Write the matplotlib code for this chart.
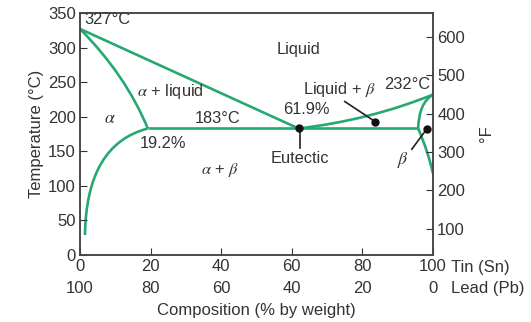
import matplotlib
matplotlib.use("Agg")
import matplotlib.pyplot as plt
from matplotlib.path import Path
from matplotlib.patches import PathPatch
from matplotlib.transforms import blended_transform_factory

plt.rcParams['font.family'] = ['Liberation Sans', 'DejaVu Sans']
plt.rcParams['mathtext.fontset'] = 'stix'

GREEN = '#26a971'

# ---------------- Phase boundaries (composition % Sn, temperature °C) ----------------
# curved boundaries: start point, bend (control) point, end point
liquidus_left_x = [0, 61.9]
liquidus_left_t = [327, 183]

solidus_left_x = [0, 13, 19.2]
solidus_left_t = [327, 260, 183]

solvus_left_x = [19.2, 1.8, 1.4]
solvus_left_t = [183, 160, 29]

liquidus_right_x = [61.9, 82, 100]
liquidus_right_t = [183, 195, 232]

solidus_right_x = [95.8, 96, 100]
solidus_right_t = [183, 220, 232]

solvus_right_x = [95.8, 98.6, 100]
solvus_right_t = [183, 150, 118]

eutectic_x = [19.2, 95.8]
eutectic_t = [183, 183]

xticks = [0, 20, 40, 60, 80, 100]
lead_labels = [100, 80, 60, 40, 20, 0]
yticks = [0, 50, 100, 150, 200, 250, 300, 350]
fticks = [100, 200, 300, 400, 500, 600]

fig = plt.figure(figsize=(5.31, 3.22), dpi=100)
ax = fig.add_axes([0.1507, 0.208, 0.6647, 0.7516])

# straight boundaries
for xs, ts in [(liquidus_left_x, liquidus_left_t), (eutectic_x, eutectic_t)]:
    ax.plot(xs, ts, color=GREEN, lw=1.9, solid_capstyle='butt')

# curved boundaries drawn as quadratic Bezier paths
for xs, ts in [(solidus_left_x, solidus_left_t), (solvus_left_x, solvus_left_t),
               (liquidus_right_x, liquidus_right_t), (solidus_right_x, solidus_right_t),
               (solvus_right_x, solvus_right_t)]:
    path = Path(list(zip(xs, ts)), [Path.MOVETO, Path.CURVE3, Path.CURVE3])
    ax.add_patch(PathPatch(path, fill=False, edgecolor=GREEN, lw=1.9, capstyle='butt'))

# pointers
ax.plot([62.3, 62.3], [183, 155], color='#222222', lw=1.2)
ax.plot(61.9, 183, 'o', color='#111111', ms=5)
ax.plot([75, 83.6], [222, 193], color='#222222', lw=1.2)
ax.plot(83.6, 193, 'o', color='#111111', ms=5)
ax.plot([94, 98.2], [153, 182], color='#222222', lw=1.2)
ax.plot(98.2, 182, 'o', color='#111111', ms=5)

fs = 12
afs = 11.8
tc = '#333333'
ax.text(1.3, 341, '327°C', fontsize=afs, ha='left', va='center', color=tc)
ax.text(62, 297, 'Liquid', fontsize=afs, ha='center', va='center', color=tc)
ax.text(25.5, 236, r'$\alpha$ + liquid', fontsize=afs, ha='center', va='center', color=tc)
ax.text(8.5, 197, r'$\alpha$', fontsize=afs + 1, ha='center', va='center', color=tc)
ax.text(39, 197, '183°C', fontsize=afs, ha='center', va='center', color=tc)
ax.text(23.5, 162, '19.2%', fontsize=afs, ha='center', va='center', color=tc)
ax.text(64, 210, '61.9%', fontsize=afs, ha='center', va='center', color=tc)
ax.text(73.6, 239, r'Liquid + $\beta$', fontsize=afs, ha='center', va='center', color=tc)
ax.text(99.2, 247, '232°C', fontsize=afs, ha='right', va='center', color=tc)
ax.text(62.3, 140, 'Eutectic', fontsize=afs, ha='center', va='center', color=tc)
ax.text(91.5, 137, r'$\beta$', fontsize=afs + 1, ha='center', va='center', color=tc)
ax.text(39.7, 123, r'$\alpha$ + $\beta$', fontsize=afs, ha='center', va='center', color=tc)

ax.set_xlim(0, 100)
ax.set_ylim(0, 350)
ax.set_xticks(xticks)
ax.set_yticks(yticks)
ax.tick_params(direction='in', length=5, labelsize=fs, colors=tc)
ax.tick_params(axis='x', pad=3)
ax.tick_params(axis='y', pad=3)
ax.set_ylabel('Temperature (°C)', fontsize=fs, color=tc, labelpad=3)
ax.set_xlabel('Composition (% by weight)', fontsize=fs, color=tc, labelpad=21)
for s in ax.spines.values():
    s.set_color('#444444')
    s.set_linewidth(1.1)

# second row of composition labels (lead)
xt = blended_transform_factory(ax.transData, ax.transAxes)
for x, lab in zip(xticks, lead_labels):
    ax.text(x, -0.137, str(lab), fontsize=fs, ha='center', va='center', color=tc,
            transform=xt)

trans = blended_transform_factory(fig.transFigure, ax.transAxes)
ax.text(451 / 531, -0.05, 'Tin (Sn)', fontsize=fs, ha='left', va='center', color=tc,
        transform=trans)
ax.text(451 / 531, -0.137, 'Lead (Pb)', fontsize=fs, ha='left', va='center', color=tc,
        transform=trans)

# Fahrenheit axis
axf = ax.twinx()
axf.set_ylim(32, 350 * 9 / 5 + 32)
axf.set_yticks(fticks)
axf.tick_params(direction='in', length=5, labelsize=fs, colors=tc, pad=3)
axf.set_ylabel('°F', fontsize=fs, color=tc, rotation=90, labelpad=10)
for s in axf.spines.values():
    s.set_color('#444444')
    s.set_linewidth(1.1)

fig.savefig('out.png', dpi=100)
